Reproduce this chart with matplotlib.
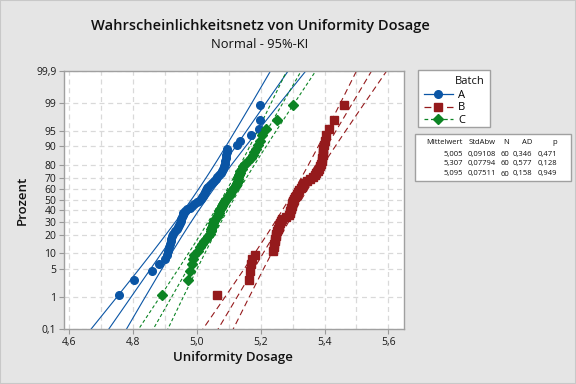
import numpy as np
import matplotlib
matplotlib.use("Agg")
import matplotlib.pyplot as plt
from matplotlib.lines import Line2D
from matplotlib.patches import Rectangle
from matplotlib.ticker import MultipleLocator
from statistics import NormalDist

plt.rcParams['font.family'] = ['Open Sans', 'DejaVu Sans']

batches = ["A", "B", "C"]
dose_A = [4.754, 4.804, 4.860, 4.882, 4.899, 4.905, 4.909, 4.912, 4.915, 4.918,
          4.920, 4.922, 4.926, 4.931, 4.936, 4.940, 4.944, 4.947, 4.949, 4.951,
          4.953, 4.955, 4.957, 4.962, 4.970, 4.978, 4.984, 4.992, 4.999, 5.006,
          5.012, 5.016, 5.019, 5.022, 5.025, 5.028, 5.030, 5.033, 5.040, 5.047,
          5.053, 5.058, 5.063, 5.069, 5.075, 5.079, 5.082, 5.085, 5.087, 5.089,
          5.090, 5.092, 5.093, 5.095, 5.125, 5.135, 5.170, 5.195, 5.198, 5.198]
dose_B = [5.062, 5.164, 5.165, 5.170, 5.173, 5.182, 5.238, 5.240, 5.241, 5.243,
          5.245, 5.247, 5.249, 5.251, 5.253, 5.256, 5.258, 5.260, 5.262, 5.265,
          5.280, 5.288, 5.291, 5.293, 5.295, 5.296, 5.298, 5.299, 5.300, 5.301,
          5.303, 5.306, 5.309, 5.313, 5.317, 5.321, 5.325, 5.328, 5.332, 5.337,
          5.345, 5.355, 5.365, 5.370, 5.374, 5.378, 5.381, 5.385, 5.388, 5.391,
          5.393, 5.394, 5.395, 5.396, 5.398, 5.400, 5.403, 5.415, 5.431, 5.461]
dose_C = [4.890, 4.973, 4.978, 4.983, 4.987, 4.990, 5.003, 5.010, 5.016, 5.022,
          5.028, 5.035, 5.041, 5.043, 5.045, 5.047, 5.049, 5.051, 5.053, 5.057,
          5.062, 5.065, 5.068, 5.070, 5.072, 5.075, 5.078, 5.081, 5.084, 5.088,
          5.092, 5.096, 5.100, 5.104, 5.107, 5.110, 5.115, 5.120, 5.123, 5.125,
          5.127, 5.128, 5.130, 5.132, 5.134, 5.135, 5.140, 5.145, 5.151, 5.160,
          5.168, 5.175, 5.180, 5.185, 5.190, 5.198, 5.203, 5.217, 5.252, 5.300]

# summary table
mittelwert = [5.005, 5.307, 5.095]
stdabw = [0.09108, 0.07794, 0.07511]
n_obs = [60, 60, 60]
ad_stat = [0.346, 0.577, 0.158]
p_val = [0.471, 0.128, 0.949]

pct_ticks = [0.1, 1, 5, 10, 20, 30, 40, 50, 60, 70, 80, 90, 95, 99, 99.9]
x_ticks = [4.6, 4.8, 5.0, 5.2, 5.4, 5.6]

colors = ['#0a55a5', '#951a1c', '#0c8424']
markers = ['o', 's', 'D']
msizes = [5.5, 5.5, 5]
dash_pat = [None, (5.5, 3.5), (3, 2.2)]

nd = NormalDist()


def fmt(v, nd_=None):
    s = str(v) if nd_ is None else f"{v:.{nd_}f}"
    return s.replace(".", ",")


def px(x, y):
    return x / 576, 1 - y / 384


fig = plt.figure(figsize=(5.76, 3.84), dpi=100, facecolor='#e5e5e5')
ax = fig.add_axes([64 / 576, 1 - 329 / 384, 340 / 576, 258.3 / 384])
ax.set_facecolor('white')

data = [dose_A, dose_B, dose_C]
handles = []
zz = np.linspace(-3.4, 3.4, 300)
for k, vals in enumerate(data):
    vals = np.sort(np.array(vals))
    n = len(vals)
    ranks = np.arange(1, n + 1)
    pp = (ranks - 0.3) / (n + 0.4)
    zpos = np.array([nd.inv_cdf(p) for p in pp])
    mu, sd = mittelwert[k], stdabw[k]
    xp = mu + zz * sd
    half = 1.96 * sd * np.sqrt(1.0 / n + zz ** 2 / (2.0 * n))
    for xl in (xp - half, xp, xp + half):
        ln, = ax.plot(xl, zz, color=colors[k], lw=0.8, zorder=2)
        if dash_pat[k] is not None:
            ln.set_dashes(dash_pat[k])
    ax.plot(vals, zpos, linestyle='none', marker=markers[k], ms=msizes[k],
            color=colors[k], mec=colors[k], zorder=3)
    h = Line2D([], [], color=colors[k], lw=0.9, marker=markers[k], ms=msizes[k])
    if dash_pat[k] is not None:
        h.set_dashes(dash_pat[k])
    handles.append(h)

ax.set_xlim(4.583, 5.649)
ax.set_ylim(nd.inv_cdf(0.001), nd.inv_cdf(0.999))
ax.set_xticks(x_ticks)
ax.set_xticklabels([fmt(t, 1) for t in x_ticks])
ax.xaxis.set_minor_locator(MultipleLocator(0.1))
ax.set_yticks([nd.inv_cdf(p / 100) for p in pct_ticks])
ax.set_yticklabels([fmt(p) for p in pct_ticks])
ax.tick_params(axis='both', which='major', length=3.5, color='#999999',
               labelsize=7.5, labelcolor='#1a1a1a', pad=2)
ax.tick_params(axis='x', which='minor', length=0)
ax.grid(True, which='both', color='#d9d9d9', lw=0.9, linestyle=(0, (4, 3)), zorder=0)
ax.set_axisbelow(True)
for s in ax.spines.values():
    s.set_color('#a0a0a0')
    s.set_linewidth(1.0)

# titles and axis labels
fig.text(*px(260, 26), "Wahrscheinlichkeitsnetz von Uniformity Dosage", ha='center', va='center',
         fontsize=10.5, fontweight='semibold', color='#111111')
fig.text(*px(260, 45), "Normal - 95%-KI", ha='center', va='center', fontsize=9.3, color='#111111')
fig.text(*px(233, 358), "Uniformity Dosage", ha='center', va='center', fontsize=9.5,
         fontweight='semibold', color='#111111')
fig.text(*px(22, 200), "Prozent", ha='center', va='center', rotation=90, fontsize=9.5,
         fontweight='semibold', color='#111111')

# legend box
fig.patches.append(Rectangle(px(418, 127), 72 / 576, 57 / 384, transform=fig.transFigure,
                             facecolor='white', edgecolor='#a0a0a0', lw=1.0))
fig.text(*px(470, 81), "Batch", ha='center', va='center', fontsize=8, color='#111111')
fig.legend(handles, batches, loc='upper left', bbox_to_anchor=px(416, 82), frameon=False,
           fontsize=8, handlelength=2.6, handletextpad=0.5, labelspacing=0.15,
           borderpad=0.2)

# statistics table
fig.patches.append(Rectangle(px(415, 181), 156 / 576, 47 / 384, transform=fig.transFigure,
                             facecolor='white', edgecolor='#a0a0a0', lw=1.0))
col_x = [463, 496, 509, 532, 557]
heads = ["Mittelwert", "StdAbw", "N", "AD", "p"]
for cx, hd in zip(col_x, heads):
    fig.text(*px(cx, 143), hd, ha='right', va='center', fontsize=5.5, color='#111111')
for k in range(3):
    row = [fmt(mittelwert[k], 3), fmt(stdabw[k], 5), str(n_obs[k]),
           fmt(ad_stat[k], 3), fmt(p_val[k], 3)]
    for cx, t in zip(col_x, row):
        fig.text(*px(cx, 154 + 10 * k), t, ha='right', va='center', fontsize=5.5, color='#111111')

# outer border
fig.patches.append(Rectangle((0, 0), 1, 1, transform=fig.transFigure, fill=False,
                             edgecolor='#c8c8c8', lw=1.5))

fig.savefig("out.png", dpi=100, facecolor=fig.get_facecolor())
